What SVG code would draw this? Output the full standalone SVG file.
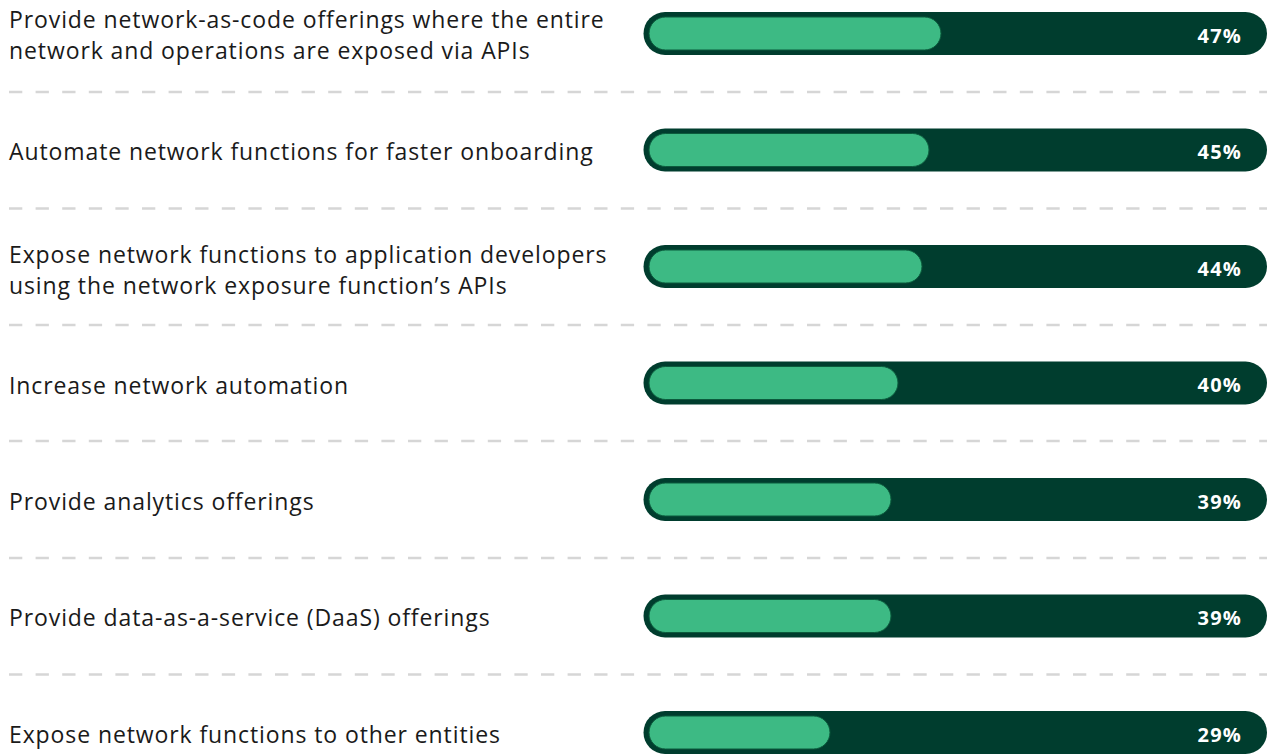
<svg xmlns="http://www.w3.org/2000/svg" width="1267" height="754" viewBox="0 0 1267 754">
<style>
.lbl{font-family:"Open Sans","Noto Sans","Liberation Sans",sans-serif;font-size:23px;letter-spacing:0.9px;fill:#1a1a1a}
.pct{font-family:"Open Sans","Noto Sans","Liberation Sans",sans-serif;font-size:20px;font-weight:bold;letter-spacing:1.2px;fill:#ffffff;text-anchor:end}
.track{fill:#003d2e}
.fill{fill:#3dba84;stroke:#0b5b3c;stroke-width:1}
.sep{stroke:#d6d6d6;stroke-width:2.5;stroke-dasharray:13.3 13.3;fill:none}
</style>
<rect width="1267" height="754" fill="#ffffff"/>
<g id="separators">
<line class="sep" x1="9" y1="92" x2="1267" y2="92"/>
<line class="sep" x1="9" y1="208.5" x2="1267" y2="208.5"/>
<line class="sep" x1="9" y1="325" x2="1267" y2="325"/>
<line class="sep" x1="9" y1="441" x2="1267" y2="441"/>
<line class="sep" x1="9" y1="558" x2="1267" y2="558"/>
<line class="sep" x1="9" y1="674.5" x2="1267" y2="674.5"/>
</g>
<g id="row1">
<text class="lbl" x="9" y="27.5">Provide network-as-code offerings where the entire</text>
<text class="lbl" x="9" y="58.5">network and operations are exposed via APIs</text>
<rect class="track" x="643.5" y="12" width="623.5" height="43" rx="21.5"/>
<rect class="fill" x="649" y="17" width="292" height="33" rx="16.5"/>
<text class="pct" x="1242" y="42.5">47%</text>
</g>
<g id="row2">
<text class="lbl" x="9" y="159.5">Automate network functions for faster onboarding</text>
<rect class="track" x="643.5" y="128.5" width="623.5" height="43" rx="21.5"/>
<rect class="fill" x="649" y="133.5" width="280" height="33" rx="16.5"/>
<text class="pct" x="1242" y="159">45%</text>
</g>
<g id="row3">
<text class="lbl" x="9" y="262.5">Expose network functions to application developers</text>
<text class="lbl" x="9" y="293.5">using the network exposure function’s APIs</text>
<rect class="track" x="643.5" y="245" width="623.5" height="43" rx="21.5"/>
<rect class="fill" x="649" y="250" width="273" height="33" rx="16.5"/>
<text class="pct" x="1242" y="275.5">44%</text>
</g>
<g id="row4">
<text class="lbl" x="9" y="393.5">Increase network automation</text>
<rect class="track" x="643.5" y="361.5" width="623.5" height="43" rx="21.5"/>
<rect class="fill" x="649" y="366.5" width="249" height="33" rx="16.5"/>
<text class="pct" x="1242" y="392">40%</text>
</g>
<g id="row5">
<text class="lbl" x="9" y="509.5">Provide analytics offerings</text>
<rect class="track" x="643.5" y="478" width="623.5" height="43" rx="21.5"/>
<rect class="fill" x="649" y="483" width="242" height="33" rx="16.5"/>
<text class="pct" x="1242" y="508.5">39%</text>
</g>
<g id="row6">
<text class="lbl" x="9" y="626">Provide data-as-a-service (DaaS) offerings</text>
<rect class="track" x="643.5" y="594.5" width="623.5" height="43" rx="21.5"/>
<rect class="fill" x="649" y="599.5" width="242" height="33" rx="16.5"/>
<text class="pct" x="1242" y="625">39%</text>
</g>
<g id="row7">
<text class="lbl" x="9" y="743">Expose network functions to other entities</text>
<rect class="track" x="643.5" y="711" width="623.5" height="43" rx="21.5"/>
<rect class="fill" x="649" y="716" width="181" height="33" rx="16.5"/>
<text class="pct" x="1242" y="741.5">29%</text>
</g>
</svg>
